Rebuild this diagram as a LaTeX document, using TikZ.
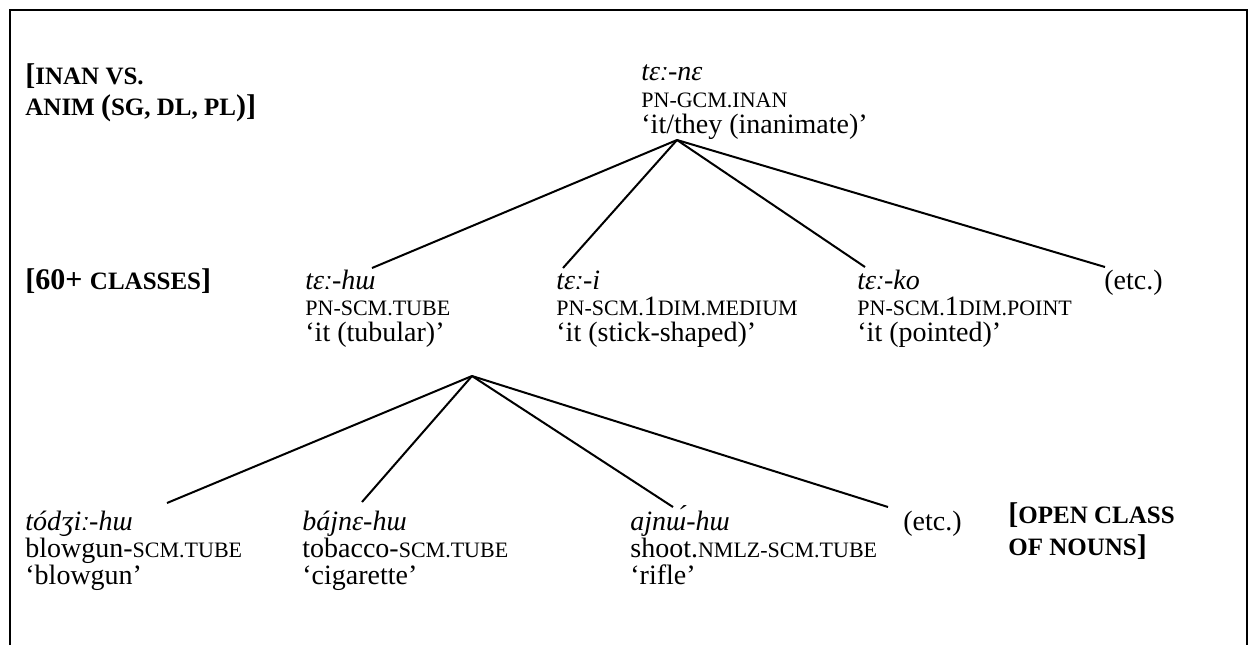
\documentclass[tikz,border=0pt]{standalone}
\usepackage{fontspec}
\setmainfont{Liberation Serif}
\newcommand{\smc}[1]{{\fontsize{11pt}{11pt}\selectfont #1}}
\newcommand{\smb}[1]{{\fontsize{12.5pt}{12.5pt}\selectfont\bfseries #1}}
\begin{document}
\begin{tikzpicture}[x=0.5pt,y=-0.5pt,
  form/.style={anchor=base west,inner sep=0pt,font=\itshape\fontsize{14pt}{14pt}\selectfont},
  gloss/.style={anchor=base west,inner sep=0pt,font=\fontsize{14pt}{14pt}\selectfont},
  level/.style={anchor=base west,inner sep=0pt,font=\bfseries\fontsize{15pt}{15pt}\selectfont},
  branch/.style={line width=1pt}]
\useasboundingbox (0,0) rectangle (1249,645);
\draw[line width=1pt] (10,645) -- (10,10) -- (1247,10) -- (1247,645);

% levels
\node[level] (lv-gen) at (25,84) {[\smb{INAN VS.}};
\node[level] (lv-gen2) at (25,115) {\smb{ANIM }(\smb{SG, DL, PL})]};
\node[level] (lv-cls) at (25,289) {[60+ \smb{CLASSES}]};
\node[level] (lv-nn) at (1008,523) {[\smb{OPEN CLASS}};
\node[level] (lv-nn2) at (1008,555) {\smb{OF NOUNS}]};

% generic
\node[form] (ne) at (641,80) {tɛː-nɛ};
\node[gloss] (ne-gl) at (641,107) {\smc{PN-GCM.INAN}};
\node[gloss] (ne-tr) at (641,133) {`it/they (inanimate)'};

% classifiers
\node[form] (hu) at (305,289) {tɛː-hɯ};
\node[gloss] (hu-gl) at (305,315) {\smc{PN-SCM.TUBE}};
\node[gloss] (hu-tr) at (305,341) {`it (tubular)'};
\node[form] (i) at (556,289) {tɛː-i};
\node[gloss] (i-gl) at (556,315) {\smc{PN-SCM.}1\smc{DIM.MEDIUM}};
\node[gloss] (i-tr) at (556,341) {`it (stick-shaped)'};
\node[form] (ko) at (857,289) {tɛː-ko};
\node[gloss] (ko-gl) at (857,315) {\smc{PN-SCM.}1\smc{DIM.POINT}};
\node[gloss] (ko-tr) at (857,341) {`it (pointed)'};
\node[gloss] (etc1) at (1104,289) {(etc.)};

% nouns
\node[form] (tod) at (25,530) {tódʒiː-hɯ};
\node[gloss] (tod-gl) at (25,557) {blowgun-\smc{SCM.TUBE}};
\node[gloss] (tod-tr) at (25,584) {`blowgun'};
\node[form] (baj) at (302,530) {bájnɛ-hɯ};
\node[gloss] (baj-gl) at (302,557) {tobacco-\smc{SCM.TUBE}};
\node[gloss] (baj-tr) at (302,584) {`cigarette'};
\node[form] (ajn) at (630,530) {ajnɯ́-hɯ};
\node[gloss] (ajn-gl) at (630,557) {shoot.\smc{NMLZ-SCM.TUBE}};
\node[gloss] (ajn-tr) at (630,584) {`rifle'};
\node[gloss] (etc2) at (903,530) {(etc.)};

% branches
\coordinate (ne-root) at (677,140);
\coordinate (hu-in) at (372,268);
\coordinate (i-in) at (563,268);
\coordinate (ko-in) at (865,267);
\coordinate (etc1-in) at (1105,267);
\coordinate (hu-root) at (472,376);
\coordinate (tod-in) at (167,503);
\coordinate (baj-in) at (362,502);
\coordinate (ajn-in) at (673,507);
\coordinate (etc2-in) at (888,507);
\draw[branch] (ne-root) -- (hu-in);
\draw[branch] (ne-root) -- (i-in);
\draw[branch] (ne-root) -- (ko-in);
\draw[branch] (ne-root) -- (etc1-in);
\draw[branch] (hu-root) -- (tod-in);
\draw[branch] (hu-root) -- (baj-in);
\draw[branch] (hu-root) -- (ajn-in);
\draw[branch] (hu-root) -- (etc2-in);
\end{tikzpicture}
\end{document}
